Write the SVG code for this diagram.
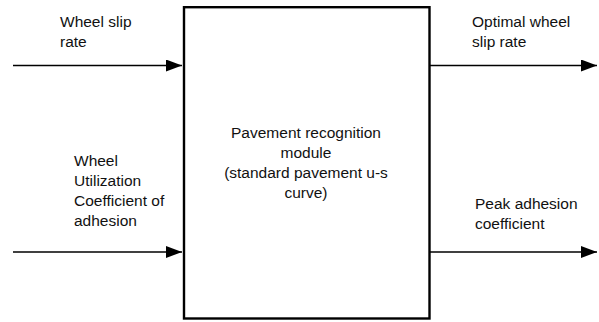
<svg xmlns="http://www.w3.org/2000/svg" width="599" height="322" viewBox="0 0 599 322">
<style>
text{font-family:"Liberation Sans",Arial,sans-serif;font-size:15.5px;fill:#111}
.c{text-anchor:middle}
.box{fill:#fff;stroke:#000;stroke-width:2.4}
.conn{stroke:#000;stroke-width:1.3;fill:none}
</style>
<defs>
<marker id="ah" markerWidth="16" markerHeight="12" refX="16" refY="6" orient="auto" markerUnits="userSpaceOnUse">
<path d="M0,0 L16,6 L0,12 Z" fill="#000"/>
</marker>
</defs>
<rect width="599" height="322" fill="#fff"/>
<g id="module">
<rect class="box" x="184" y="7.2" width="245.5" height="311.3"/>
<text class="c" x="306" y="138">Pavement recognition</text>
<text class="c" x="306" y="158">module</text>
<text class="c" x="306" y="178">(standard pavement u-s</text>
<text class="c" x="306" y="198">curve)</text>
</g>
<g id="connectors">
<line class="conn" x1="13" y1="65.5" x2="182" y2="65.5" marker-end="url(#ah)"/>
<line class="conn" x1="13" y1="252" x2="182" y2="252" marker-end="url(#ah)"/>
<line class="conn" x1="430" y1="65.5" x2="597" y2="65.5" marker-end="url(#ah)"/>
<line class="conn" x1="430" y1="252" x2="597" y2="252" marker-end="url(#ah)"/>
</g>
<g id="label-in1">
<text x="60" y="27">Wheel slip</text>
<text x="60" y="47">rate</text>
</g>
<g id="label-in2">
<text x="74" y="166">Wheel</text>
<text x="74" y="186">Utilization</text>
<text x="74" y="206">Coefficient of</text>
<text x="74" y="226">adhesion</text>
</g>
<g id="label-out1">
<text x="472" y="27">Optimal wheel</text>
<text x="472" y="47">slip rate</text>
</g>
<g id="label-out2">
<text x="475" y="209">Peak adhesion</text>
<text x="475" y="229">coefficient</text>
</g>
</svg>
